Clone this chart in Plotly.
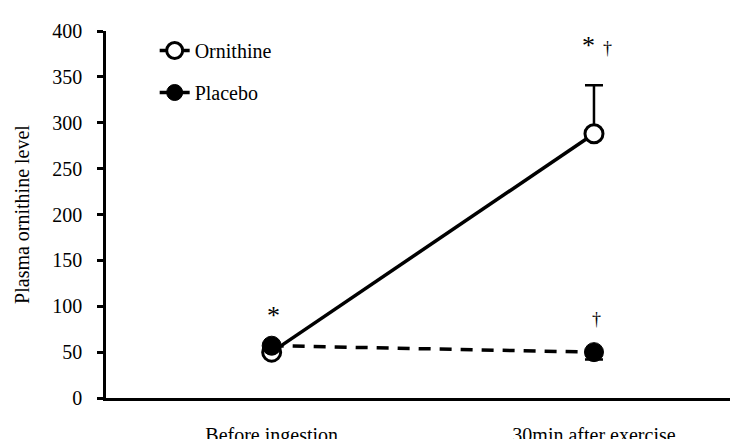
import plotly.graph_objects as go

categories = ["Before ingestion", "30min after exercise"]
x_pos = [0, 1]
ornithine = [50, 288]
ornithine_err_up = [0, 53]
placebo = [57, 50]
placebo_err_down = [0, 8]

font_family = "Liberation Serif"
fs = 20

fig = go.Figure()
fig.add_trace(go.Scatter(
    x=x_pos, y=ornithine, name="Ornithine", mode="lines+markers",
    legendgroup="a",
    line=dict(color="black", width=3.5),
    marker=dict(symbol="circle", size=18, color="white", line=dict(color="black", width=3)),
    error_y=dict(type="data", array=ornithine_err_up, arrayminus=[0, 0], color="black", thickness=2.5, width=9),
))
fig.add_trace(go.Scatter(
    x=x_pos, y=placebo, name="Placebo", mode="lines+markers",
    legendgroup="b",
    line=dict(color="black", width=3.5, dash="12px,9px"),
    marker=dict(symbol="circle", size=19, color="black", line=dict(color="black", width=1)),
    error_y=dict(type="data", array=[0, 0], arrayminus=placebo_err_down, color="black", thickness=2.5, width=9),
))

ann = [
    dict(x=0, y=57, text="*", xshift=2, yshift=30, size=26),
    dict(x=1, y=288, text="*", xshift=-5, yshift=88, size=26),
    dict(x=1, y=288, text="†", xshift=14, yshift=86, size=18),
    dict(x=1, y=50, text="†", xshift=3, yshift=33, size=18),
]
for a in ann:
    fig.add_annotation(x=a["x"], y=a["y"], text=a["text"], showarrow=False,
                       xshift=a["xshift"], yshift=a["yshift"],
                       font=dict(family=font_family, color="black", size=a["size"]))

fig.update_layout(
    width=738, height=431,
    margin=dict(l=89, r=16, t=14, b=41),
    paper_bgcolor="white", plot_bgcolor="white",
    font=dict(family=font_family, color="black", size=fs),
    showlegend=True,
    legend=dict(x=0.078, y=1.0, xanchor="left", yanchor="top",
                traceorder="grouped", tracegroupgap=13,
                font=dict(family=font_family, size=fs), bgcolor="rgba(0,0,0,0)"),
    xaxis=dict(range=[-0.514, 1.422], tickvals=x_pos, ticktext=categories, automargin=False,
               showgrid=False, zeroline=False, showline=True, linecolor="black", linewidth=2.5,
               ticks="", ticklabelstandoff=17, tickfont=dict(family=font_family, size=fs)),
    yaxis=dict(range=[0, 400], dtick=50, showgrid=False, zeroline=False,
               showline=True, linecolor="black", linewidth=2.5,
               ticks="outside", ticklen=6, tickwidth=2.5, tickcolor="black",
               ticklabelstandoff=11,
               title=dict(text="Plasma ornithine level", font=dict(family=font_family, size=fs), standoff=18),
               tickfont=dict(family=font_family, size=fs)),
)

fig.write_html("out.html")
